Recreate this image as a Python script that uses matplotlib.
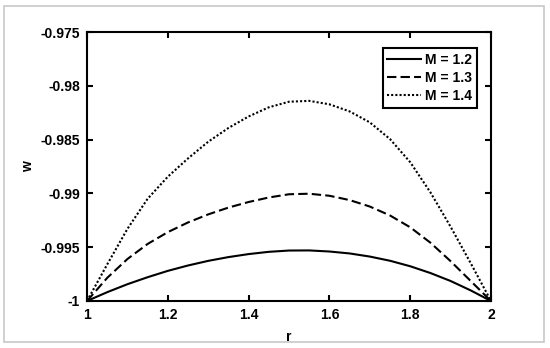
import matplotlib
matplotlib.use("Agg")
import matplotlib.pyplot as plt
from matplotlib.patches import Rectangle
from matplotlib.ticker import FormatStrFormatter

plt.rcParams['font.family'] = ['Liberation Sans', 'DejaVu Sans']
plt.rcParams['font.weight'] = 'bold'

r = [1.00, 1.05, 1.10, 1.15, 1.20, 1.25, 1.30, 1.35, 1.40, 1.45, 1.50,
     1.55, 1.60, 1.65, 1.70, 1.75, 1.80, 1.85, 1.90, 1.95, 2.00]

w_m12 = [-1.00000, -0.99918, -0.99844, -0.99779, -0.99720, -0.99670, -0.99627,
         -0.99592, -0.99564, -0.99543, -0.99531, -0.99530, -0.99540, -0.99558,
         -0.99587, -0.99626, -0.99677, -0.99740, -0.99814, -0.99902, -1.00000]

w_m13 = [-1.00000, -0.99785, -0.99610, -0.99470, -0.99360, -0.99270, -0.99195,
         -0.99132, -0.99080, -0.99038, -0.99008, -0.99003, -0.99022, -0.99062,
         -0.99122, -0.99205, -0.99315, -0.99458, -0.99630, -0.99815, -1.00000]

w_m14 = [-1.00000, -0.99660, -0.99330, -0.99050, -0.98845, -0.98675, -0.98520,
         -0.98392, -0.98285, -0.98200, -0.98148, -0.98140, -0.98172, -0.98238,
         -0.98340, -0.98495, -0.98710, -0.98990, -0.99310, -0.99650, -1.00000]

labels = ['M = 1.2', 'M = 1.3', 'M = 1.4']
xticks = [1, 1.2, 1.4, 1.6, 1.8, 2]
yticks = [-1, -0.995, -0.99, -0.985, -0.98, -0.975]

fig = plt.figure(figsize=(5.5, 3.48), dpi=100)
fig.patches.append(Rectangle((4/550, 6/348), 540/550, 336/348, transform=fig.transFigure,
                             fill=False, edgecolor='#c8c8c8', linewidth=1.2))
ax = fig.add_axes([87/550, 47/348, 404/550, 269/348])

ax.plot(r, w_m12, color='black', linestyle='-', linewidth=1.5, label=labels[0])
ax.plot(r, w_m13, color='black', linestyle=(0, (4.5, 2)), linewidth=1.5, label=labels[1])
ax.plot(r, w_m14, color='black', linestyle=(0, (1, 1)), linewidth=1.5, label=labels[2])

ax.set_xlim(1, 2)
ax.set_ylim(-1, -0.975)
ax.set_xticks(xticks)
ax.set_yticks(yticks)
ax.xaxis.set_major_formatter(FormatStrFormatter('%g'))
ax.yaxis.set_major_formatter(FormatStrFormatter('%g'))
ax.tick_params(direction='in', top=True, right=True, length=4, width=1.5,
               labelsize=10, pad=5)
for lab in ax.get_xticklabels() + ax.get_yticklabels():
    lab.set_fontweight('bold')
for s in ax.spines.values():
    s.set_linewidth(1.5)

ax.set_xlabel('r', fontsize=10, fontweight='bold', labelpad=6)
ax.set_ylabel('w', fontsize=10, fontweight='bold', labelpad=4)

leg = ax.legend(loc='upper right', bbox_to_anchor=(0.965, 0.94), fontsize=10,
                fancybox=False, framealpha=1, edgecolor='black',
                handlelength=2.4, handletextpad=0.3, borderpad=0.35,
                labelspacing=0.3, borderaxespad=0)
leg.get_frame().set_linewidth(1.5)
for t in leg.get_texts():
    t.set_fontweight('bold')

fig.savefig('out.png', dpi=100)
